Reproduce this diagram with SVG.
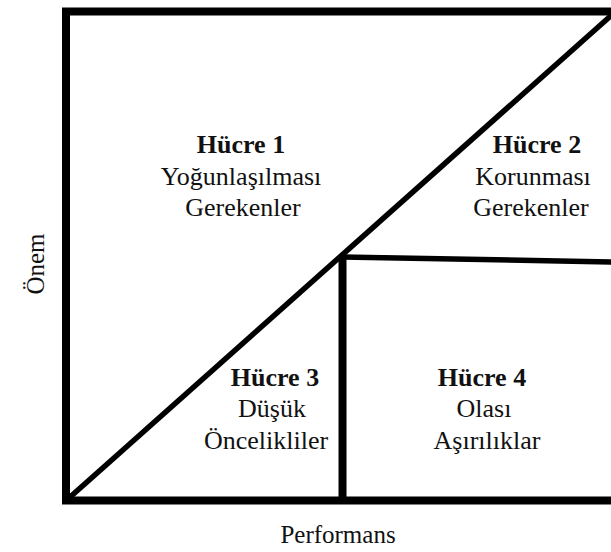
<svg xmlns="http://www.w3.org/2000/svg" width="611" height="552" viewBox="0 0 611 552">
<style>
.t{font-family:"Liberation Serif","Times New Roman",serif;font-size:26px;fill:#111;text-anchor:middle}
.ax{font-size:25px}
.b{font-weight:bold}
.frame{fill:none;stroke:#000;stroke-width:8}
.ln{stroke:#000;stroke-width:5.5;fill:none}
.vl{stroke:#000;stroke-width:8;fill:none}
</style>
<rect width="611" height="552" fill="#fff"/>
<g id="frame">
<path class="frame" d="M620,11.5 H66 V500.5 H620"/>
</g>
<g id="connectors">
<line class="ln" x1="69" y1="498" x2="614" y2="13"/>
<line class="vl" x1="342.5" y1="255" x2="342.5" y2="497"/>
<line class="ln" x1="342" y1="257" x2="612" y2="262"/>
</g>
<g id="cell1">
<text class="t b" x="241" y="153">Hücre 1</text>
<text class="t" x="241" y="185">Yoğunlaşılması</text>
<text class="t" x="243" y="216">Gerekenler</text>
</g>
<g id="cell2">
<text class="t b" x="537" y="153">Hücre 2</text>
<text class="t" x="533" y="185">Korunması</text>
<text class="t" x="531" y="216">Gerekenler</text>
</g>
<g id="cell3">
<text class="t b" x="275" y="386">Hücre 3</text>
<text class="t" x="272" y="417">Düşük</text>
<text class="t" x="266" y="449">Öncelikliler</text>
</g>
<g id="cell4">
<text class="t b" x="482" y="386">Hücre 4</text>
<text class="t" x="484" y="417">Olası</text>
<text class="t" x="487" y="449">Aşırılıklar</text>
</g>
<g id="axes">
<text class="t ax" x="338" y="543">Performans</text>
<text class="t ax" transform="translate(44,264) rotate(-90)" x="0" y="0">Önem</text>
</g>
</svg>
